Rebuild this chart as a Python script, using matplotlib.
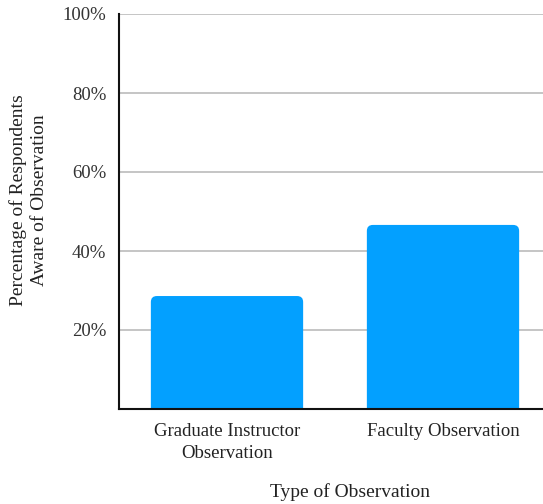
import matplotlib
matplotlib.use("Agg")
import matplotlib.pyplot as plt
from matplotlib.patches import FancyBboxPatch

categories = ["Graduate Instructor\nObservation", "Faculty Observation"]
values = [28.6, 46.6]
yticks = [20, 40, 60, 80, 100]
ytick_labels = ["20%", "40%", "60%", "80%", "100%"]

plt.rcParams['font.family'] = ['Liberation Serif', 'DejaVu Serif']

fig = plt.figure(figsize=(5.43, 5.04), dpi=100)
ax = fig.add_axes([119/543, 1-409/504, 432/543, 395/504])

bars = ax.bar(range(len(categories)), values, width=0.705, color='none')
xpx_per_unit = 432 / 2.0
ypx_per_unit = 395 / 100.0
r_px = 6
aspect = xpx_per_unit / ypx_per_unit
for b in bars:
    x, y, w, h = b.get_x(), b.get_y(), b.get_width(), b.get_height()
    p = FancyBboxPatch((x, y - 5), w, h + 5,
                       boxstyle=f"round,pad=0,rounding_size={r_px/xpx_per_unit}",
                       mutation_aspect=aspect, facecolor='#03A0FF',
                       edgecolor='none', zorder=2)
    ax.add_patch(p)
    b.set_visible(False)

ax.set_xlim(-0.5, 1.5)
ax.set_ylim(0, 100)
ax.set_yticks(yticks)
ax.set_yticklabels(ytick_labels, fontsize=13.5, color='#333333')
ax.set_xticks(range(len(categories)))
ax.set_xticklabels(categories, fontsize=13.5, color='#222222', linespacing=1.4)
ax.tick_params(axis='both', length=0)
ax.tick_params(axis='y', pad=9)
ax.tick_params(axis='x', pad=10)
ax.yaxis.grid(True, color='#BBBBBB', linewidth=1.2, zorder=0)
ax.set_axisbelow(True)
for s in ['top', 'right']:
    ax.spines[s].set_visible(False)
ax.spines['left'].set_linewidth(1.5)
ax.spines['bottom'].set_linewidth(1.5)
ax.spines['left'].set_color('#111111')
ax.spines['bottom'].set_color('#111111')

fig.text(29/543, 1-200/504, "Percentage of Respondents\nAware of Observation",
         rotation=90, ha='center', va='center', fontsize=14, color='#222222',
         linespacing=1.3, multialignment='center')
fig.text(350/543, 1-492/504, "Type of Observation", ha='center', va='center',
         fontsize=14, color='#222222')

fig.savefig("out.png", dpi=100)
